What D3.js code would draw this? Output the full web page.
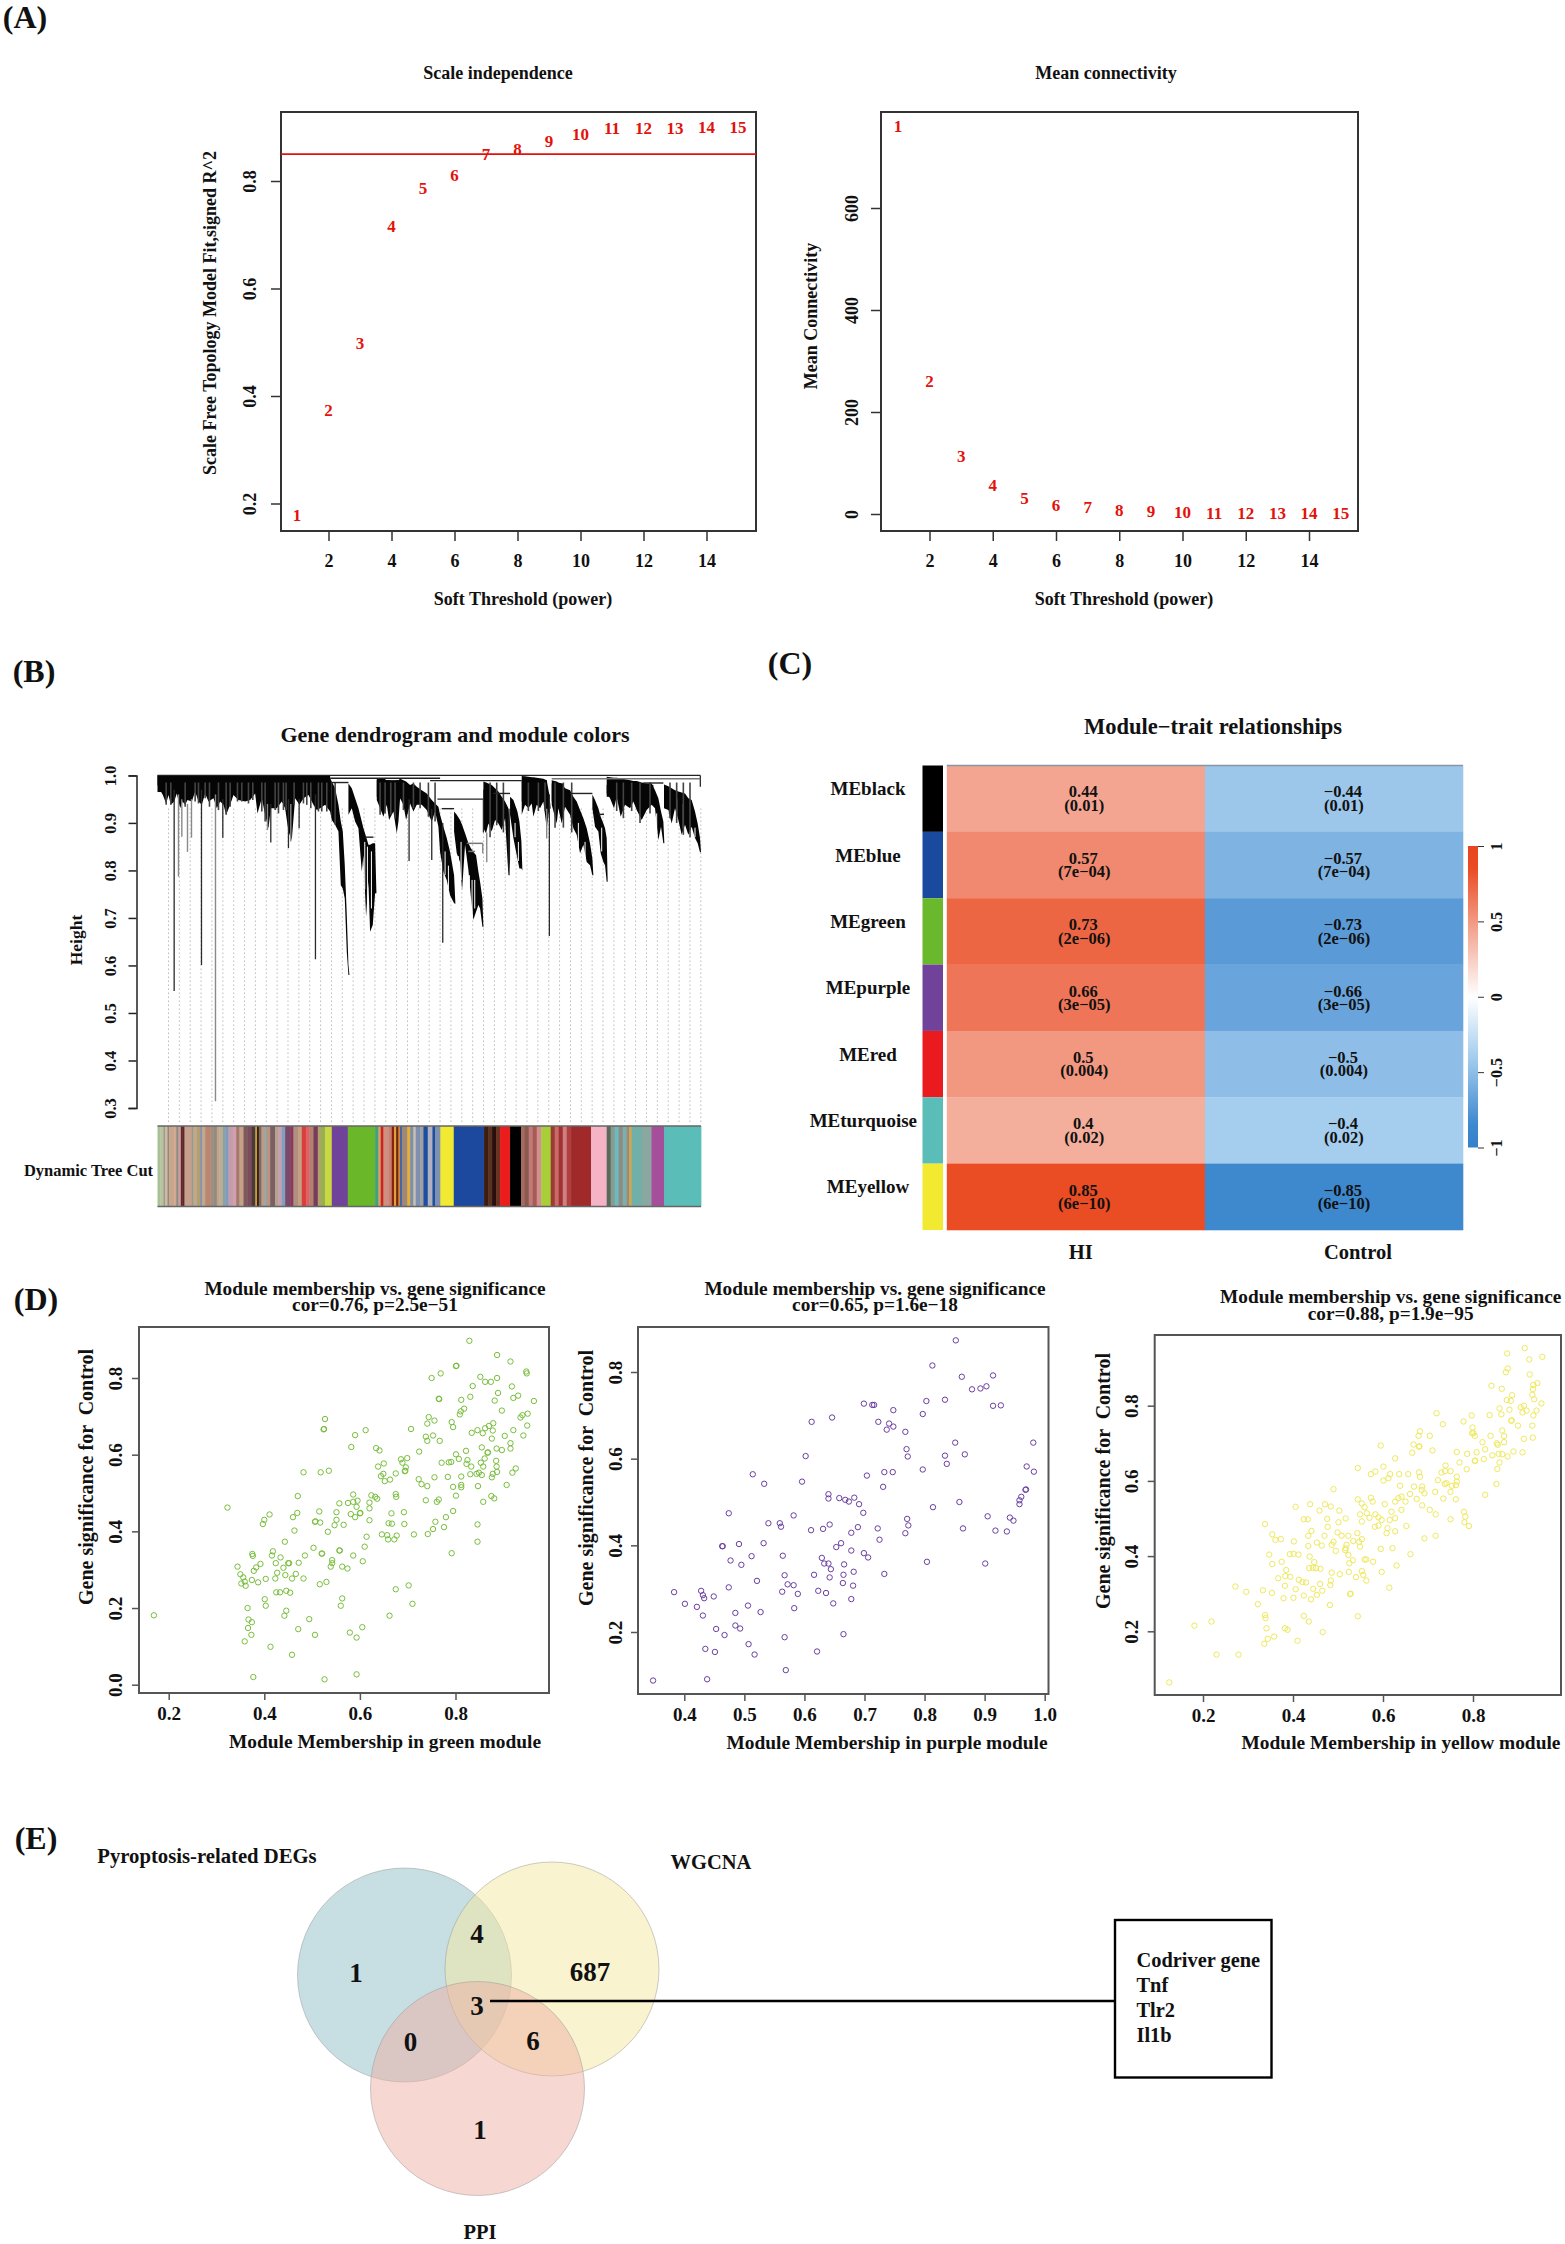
<!DOCTYPE html>
<html>
<head>
<meta charset="utf-8">
<title>WGCNA figure</title>
<script src="https://cdn.jsdelivr.net/npm/d3@7"></script>
<style>
  body { margin: 0; background: #fff; }
  text { font-family: "Liberation Serif", serif; font-weight: bold; fill: #111; white-space: pre; }
</style>
</head>
<body>
<div id="chart"></div>
<script>
// (A) soft threshold
var powers = [1,2,3,4,5,6,7,8,9,10,11,12,13,14,15];
var scaleFit = [.179,.374,.498,.716,.786,.811,.851,.860,.874,.888,.898,.898,.898,.901,.900];
var meanConn = [761,261,114,56,32,18,13,8,6,4,2.5,2,1.5,1,1];
var fitCutoff = 0.85;
var powerTicks = [2,4,6,8,10,12,14];
var fitTicks = [.2,.4,.6,.8];
var connTicks = [0,200,400,600];

// (B) dendrogram, leaf position then branch top and bottom height
var heightTicks = [.3,.4,.5,.6,.7,.8,.9,1];
var clades = [
  [[22,1,.98],[30,1,.969],[38,1,.959],[48,1,.941],[55,1,.959],[62,1,.938],[72,1,.945],[80,1,.962],[90,1,.931],[97,1,.945],[105,1,.938],[112,1,.948],[125,1,.945],[135,1,.966],[145,1,.945],[155,1,.938],[165,1,.962],[175,1,.945],[190,1,.952],[200,1,.931],[210,1,.945],[220,1,.938],[228,1,.917],[240,1,.938],[250,1,.959],[265,1,.948],[285,1,.945],[300,1,.948],[315,1,.962],[322,1,.92],[335,1,.952],[345,1,.917],[355,1,.889],[362,1,.931],[380,1,.931],[395,1,.945],[405,1,.931],[415,1,.882],[425,1,.864],[435,1,.952],[448,1,.938],[460,1,.952],[475,1,.959],[490,1,.938],[500,1,.927],[510,1,.931],[525,1,.938],[540,.994,.924],[545,.987,.906]],
  [[545,.987,.906],[555,.973,.896],[565,.938,.882],[572,.903,.769],[578,.882,.762],[584,.811,.741],[590,.706,.629],[595,.601,.58],[598,.58,.58]],
  [[595,.983,.917],[605,.973,.931],[615,.952,.903],[625,.931,.889],[635,.903,.797],[640,.889,.832],[648,.871,.703],[655,.854,.776],[660,.854,.671],[668,.857,.685],[675,.857,.752],[679,.752,.752]],
  [[680,.994,.948],[690,.994,.931],[700,.994,.913],[710,.99,.938],[717,.99,.906],[730,.987,.924],[740,.99,.878],[745,.99,.903],[750,.993,.952],[760,.99,.938],[768,.987,.906],[780,.98,.941],[790,.983,.924],[800,.976,.938],[815,.969,.938],[830,.962,.927],[845,.948,.903],[855,.941,.924],[865,.934,.892],[870,.917,.839],[880,.892,.797],[890,.868,.78],[900,.839,.748],[912,.79,.731],[916,.73,.73]],
  [[912,.924,.882],[920,.917,.836],[930,.906,.818],[936,.896,.759],[945,.878,.854],[955,.857,.801],[962,.847,.748],[970,.839,.696],[978,.832,.713],[985,.797,.727],[990,.776,.72],[997,.741,.682],[1000,.68,.68]],
  [[1000,.987,.889],[1008,.985,.878],[1015,.983,.899],[1025,.98,.882],[1035,.973,.906],[1045,.966,.899],[1055,.955,.885],[1065,.945,.91],[1075,.931,.79],[1080,.9,.82]],
  [[1080,.955,.917],[1090,.948,.868],[1102,.924,.825],[1108,.903,.804],[1114,.861,.804],[1117,.8,.8]],
  [[1115,.999,.917],[1125,.998,.938],[1135,.997,.931],[1145,.996,.941],[1150,.996,.913],[1160,.995,.938],[1170,.994,.931],[1180,.993,.945],[1190,.99,.889],[1198,.959,.931],[1202,.93,.93]],
  [[1205,.99,.938],[1220,.987,.899],[1225,.985,.931],[1235,.983,.899],[1245,.973,.934],[1260,.969,.917],[1270,.955,.889],[1280,.945,.875],[1290,.927,.836],[1300,.91,.854],[1310,.889,.818],[1320,.857,.811],[1327,.825,.79],[1330,.79,.79]],
  [[1327,.96,.931],[1335,.948,.892],[1345,.931,.882],[1352,.913,.836],[1360,.899,.818],[1365,.889,.811],[1370,.868,.776],[1373,.776,.776]],
  [[1370,.997,.962],[1380,.996,.952],[1392,.995,.931],[1400,.995,.955],[1412,.994,.913],[1425,.992,.938],[1440,.99,.931],[1450,.988,.945],[1460,.988,.927],[1475,.985,.906],[1490,.983,.927],[1505,.983,.938],[1515,.969,.931],[1525,.952,.864],[1533,.924,.892],[1540,.903,.857],[1543,.857,.857]],
  [[1542,.981,.931],[1555,.977,.927],[1565,.973,.899],[1575,.969,.931],[1585,.966,.906],[1595,.964,.875],[1605,.962,.896],[1615,.952,.875],[1625,.948,.892],[1635,.924,.868],[1643,.899,.857],[1650,.868,.838],[1653,.838,.838]]
];
// solid core of the clades: from, to, top, bottom
var cladeCores = [[22,540,1,.965],[680,745,.99,.955],[752,800,.975,.95],[1000,1040,.97,.93],[1115,1190,.99,.945],[1205,1240,.983,.945],[1370,1510,.98,.955],[1542,1590,.965,.94]];
var darkSpikes = [[72,.97,.546],[154,.97,.601],[218,.95,.869],[362,.94,.859],[415,.95,.847],[447,.95,.889],[496,.96,.613],[777,.95,.82],[845,.93,.822],[878,.9,.648],[1000,.95,.88],[1077,.93,.79],[1198,.96,.662],[1651,1,.976]];
var graySpikes = [[85,.96,.787],[95,.95,.871],[112,.94,.839],[124,.95,.869],[196,.96,.314],[352,.94,.885],[422,.94,.861],[998,.857,.836],[1010,.88,.817],[1190,.93,.867]];
// short leaves hanging out of the dense part of each clade
var streaks = [[48,.938],[62,.938],[105,.934],[135,.945],[145,.941],[165,.952],[178,.934],[205,.927],[228,.917],[240,.934],[262,.945],[275,.945],[295,.941],[308,.948],[335,.924],[345,.903],[375,.927],[385,.92],[400,.927],[408,.927],[432,.938],[460,.941],[470,.938],[482,.931],[505,.924],[515,.924],[530,.924],[555,.896],[690,.917],[705,.92],[722,.917],[735,.91],[760,.927],[790,.931],[810,.931],[835,.913],[855,.903],[1020,.87],[1040,.895],[1060,.88],[1135,.925],[1165,.925],[1185,.925],[1215,.89],[1240,.89],[1265,.88],[1400,.925],[1420,.91],[1445,.925],[1470,.9],[1500,.92],[1560,.91],[1580,.9],[1600,.875],[1620,.87]];
// white slits where a clade opens into separate leaves
var cladeGaps = [[644,.86,.76],[652,.85,.72],[664,.84,.72],[885,.84,.79],[895,.81,.76],[925,.83,.8],[933,.86,.78],[958,.79,.75],[966,.78,.7],[974,.78,.72],[1095,.9,.87],[1105,.86,.82],[1285,.9,.85],[1305,.86,.82],[1355,.89,.84],[1520,.92,.87],[1580,.95,.91],[1600,.94,.89],[1635,.89,.87]];
var merges = [[22,1651,1],[540,870,.994],[840,1115,.989],[545,595,.985],[645,670,.87],[862,1000,.95],[875,912,.93],[1030,1080,.962],[1260,1327,.962],[1345,1362,.918],[1480,1540,.984]];
var grayMerges = [[1205,1651,.993],[950,998,.857],[955,975,.84]];
var stripeEnds = [30,40,45,52,57,72,78,85,92,96,103,125,130,140,150,155,165,180,190,200,208,218,225,235,248,258,268,280,292,305,316,320,326,334,345,350,360,375,385,395,405,420,430,445,455,468,478,490,503,512,525,530,545,593,675,685,692,700,715,725,732,738,745,750,755,772,780,790,797,810,820,833,847,855,871,911,1002,1014,1026,1038,1050,1080,1113,1124,1136,1148,1160,1174,1202,1214,1226,1238,1250,1263,1323,1370,1382,1394,1406,1418,1430,1438,1445,1475,1504,1542,1653];
var stripeColors = ["#A9BF95","#B8C4A0","#9E9A8C","#D2B8A2","#8C8C7C","#C9A58C","#D0A890","#8F8F80","#D59AA0","#5A2A2A","#5A2A2A","#C5A08C","#9A9A8A","#C2A98C","#B49F6F","#7E8DB4","#C0A890","#B9876F","#A88A7A","#8E8E80","#C7A090","#B8B090","#8FA0A0","#7F9CBF","#C59CA8","#D0A0B0","#A5786E","#C8A088","#7A5A5A","#7B4B5B","#4A3A3A","#E8C040","#3A1A10","#7A6A60","#C09A88","#74B0B0","#C09080","#7A6060","#B8A090","#C4A0B0","#80A0C0","#7A4A6A","#8A3A5A","#B09080","#C8A080","#D84040","#E06060","#B08070","#7A3A5A","#B0A070","#98B050","#C8D840","#C8D840","#70429A","#6AB82C","#40A080","#D8A060","#CC2020","#D09080","#C88070","#8A2010","#E0A040","#6A2A10","#E08030","#2F5FA8","#A08878","#E8B030","#7F8FA8","#C8C0B0","#7F8FB0","#A0A0A0","#1C50A0","#B0B0C0","#1C50A0","#8090B0","#F2EA30","#1A4A9E","#3A1A10","#5A3020","#2A1008","#6A3020","#EA1B1F","#000000","#A56A60","#8A5A50","#C07A78","#AA5A55","#D09090","#A8CF38","#9A3A35","#C86A68","#A03030","#D08080","#AF4040","#A02A2A","#F4B4C6","#5A6A5A","#8A9A90","#6ABAC0","#908A80","#7AB0B0","#A08A70","#D0A850","#70B0A8","#88A8A0","#A54F9A","#5ABDB8"];

// (C) module-trait table
var moduleNames = ["MEblack","MEblue","MEgreen","MEpurple","MEred","MEturquoise","MEyellow"];
var moduleColors = ["#000000","#1A4A9E","#6AB82C","#70429A","#EA1B1F","#5ABDB8","#F2EA30"];
var traits = ["HI","Control"];
var hiCor = [.44,.57,.73,.66,.5,.4,.85];
var controlCor = [-.44,-.57,-.73,-.66,-.5,-.4,-.85];
var corP = ["(0.01)","(7e\u221204)","(2e\u221206)","(3e\u221205)","(0.004)","(0.02)","(6e\u221210)"];
var corTicks = [-1,-.5,0,.5,1];
var corStops = [-1,-.85,-.4,0,.4,.85,1];
var corStopColors = ["#3580C9","#3E88CE","#A5CDEE","#FFFFFF","#F4AE9C","#EA4C24","#E64520"];

// (D) module membership (x) and gene significance (y)
var greenPoints = [[.169,.181],[.323,.462],[.344,.308],[.35,.288],[.356,.28],[.352,.264],[.359,.269],[.361,.258],[.374,.273],[.376,.336],[.375,.341],[.378,.297],[.383,.306],[.392,.315],[.387,.267],[.403,.276],[.397,.419],[.4,.43],[.411,.444],[.418,.348],[.416,.337],[.424,.317],[.434,.332],[.427,.292],[.423,.277],[.425,.241],[.433,.241],[.446,.245],[.454,.24],[.44,.305],[.444,.286],[.45,.317],[.452,.317],[.443,.373],[.458,.277],[.466,.289],[.482,.277],[.472,.318],[.485,.337],[.503,.357],[.52,.342],[.521,.342],[.539,.308],[.542,.325],[.542,.317],[.557,.35],[.558,.35],[.563,.308],[.574,.303],[.586,.337],[.606,.322],[.61,.36],[.614,.386],[.516,.262],[.53,.268],[.563,.225],[.56,.206],[.401,.223],[.403,.206],[.365,.2],[.367,.17],[.374,.163],[.366,.148],[.373,.13],[.359,.113],[.446,.193],[.442,.18],[.413,.099],[.458,.078],[.471,.145],[.494,.171],[.506,.13],[.579,.136],[.593,.123],[.605,.15],[.377,.02],[.526,.014],[.593,.027],[.662,.18],[.675,.249],[.702,.259],[.71,.211],[.713,.392],[.533,.399],[.547,.416],[.551,.43],[.566,.417],[.463,.402],[.46,.437],[.469,.448],[.47,.492],[.482,.554],[.506,.425],[.507,.426],[.517,.423],[.515,.452],[.551,.45],[.557,.473],[.575,.474],[.581,.445],[.586,.496],[.586,.477],[.595,.48],[.593,.464],[.59,.437],[.6,.447],[.601,.448],[.62,.475],[.62,.46],[.62,.429],[.624,.494],[.632,.49],[.636,.485],[.646,.392],[.657,.39],[.659,.379],[.666,.447],[.66,.421],[.667,.42],[.677,.389],[.672,.379],[.675,.497],[.676,.49],[.692,.45],[.693,.419],[.518,.554],[.535,.558],[.524,.666],[.525,.667],[.527,.693],[.582,.62],[.59,.651],[.612,.664],[.634,.617],[.641,.611],[.638,.569],[.65,.577],[.644,.544],[.649,.55],[.652,.531],[.663,.535],[.675,.551],[.686,.588],[.689,.579],[.699,.591],[.694,.557],[.695,.558],[.696,.567],[.707,.667],[.724,.608],[.723,.536],[.729,.523],[.741,.518],[.738,.481],[.761,.477],[.765,.483],[.756,.541],[.784,.542],[.771,.579],[.786,.58],[.791,.581],[.738,.647],[.753,.65],[.741,.636],[.767,.636],[.741,.681],[.744,.698],[.756,.689],[.75,.8],[.769,.812],[.765,.746],[.766,.745],[.792,.685],[.795,.672],[.822,.61],[.801,.601],[.807,.589],[.825,.586],[.823,.576],[.833,.569],[.831,.549],[.812,.543],[.812,.521],[.812,.515],[.795,.516],[.801,.493],[.795,.453],[.78,.437],[.776,.411],[.758,.425],[.753,.406],[.742,.393],[.792,.343],[.846,.418],[.846,.373],[.847,.518],[.858,.477],[.875,.492],[.881,.486],[.844,.55],[.849,.553],[.853,.579],[.858,.569],[.861,.59],[.855,.547],[.867,.605],[.868,.606],[.876,.541],[.878,.55],[.885,.584],[.886,.569],[.887,.555],[.886,.616],[.897,.612],[.876,.642],[.878,.663],[.87,.675],[.879,.682],[.862,.669],[.857,.656],[.846,.664],[.834,.657],[.855,.619],[.903,.649],[.921,.664],[.915,.63],[.915,.616],[.919,.553],[.926,.564],[.907,.521],[.942,.65],[.95,.676],[.951,.707],[.94,.703],[.936,.697],[.897,.715],[.889,.761],[.882,.741],[.918,.778],[.921,.748],[.931,.754],[.964,.74],[.949,.812],[.948,.817],[.915,.843],[.887,.86],[.829,.897],[.801,.831],[.802,.832],[.887,.8],[.874,.79],[.862,.79],[.852,.803],[.836,.779],[.831,.751],[.812,.743],[.818,.72],[.811,.713],[.809,.705]];
var purplePoints = [[.348,.088],[.383,.292],[.401,.265],[.421,.258],[.428,.295],[.431,.285],[.433,.278],[.431,.238],[.449,.282],[.435,.161],[.451,.154],[.438,.091],[.453,.207],[.467,.193],[.474,.303],[.485,.244],[.485,.215],[.493,.208],[.506,.261],[.507,.172],[.517,.148],[.527,.246],[.521,.318],[.495,.355],[.477,.365],[.463,.398],[.464,.398],[.491,.403],[.512,.375],[.532,.405],[.474,.474],[.54,.451],[.559,.451],[.561,.443],[.514,.564],[.533,.542],[.596,.547],[.602,.606],[.582,.469],[.611,.435],[.631,.438],[.642,.448],[.564,.376],[.567,.331],[.572,.31],[.582,.308],[.563,.293],[.589,.288],[.583,.255],[.623,.295],[.636,.29],[.648,.266],[.678,.276],[.681,.307],[.664,.313],[.665,.332],[.642,.326],[.616,.332],[.644,.345],[.64,.358],[.633,.358],[.629,.371],[.666,.356],[.682,.339],[.678,.388],[.653,.396],[.661,.405],[.678,.429],[.689,.442],[.698,.475],[.691,.495],[.683,.51],[.674,.501],[.668,.505],[.658,.509],[.64,.518],[.64,.508],[.699,.382],[.706,.372],[.725,.413],[.722,.439],[.733,.334],[.768,.428],[.771,.461],[.773,.446],[.731,.535],[.704,.561],[.733,.569],[.747,.569],[.77,.622],[.772,.605],[.797,.575],[.768,.662],[.748,.674],[.741,.681],[.737,.667],[.723,.685],[.748,.712],[.716,.724],[.713,.724],[.699,.727],[.612,.685],[.646,.695],[.797,.703],[.803,.733],[.834,.736],[.813,.815],[.852,.873],[.862,.789],[.879,.76],[.893,.762],[.903,.767],[.914,.792],[.914,.722],[.927,.723],[.851,.637],[.834,.607],[.837,.588],[.867,.61],[.858,.5],[.814,.488],[.804,.362],[.864,.439],[.901,.358],[.905,.467],[.918,.434],[.937,.432],[.942,.464],[.948,.457],[.958,.495],[.958,.504],[.961,.512],[.968,.528],[.969,.529],[.981,.637],[.97,.582],[.982,.57],[.567,.188],[.569,.112],[.621,.155],[.665,.195]];
var yellowPoints = [[.125,.064],[.181,.215],[.219,.226],[.23,.138],[.279,.138],[.272,.319],[.296,.305],[.322,.272],[.333,.309],[.353,.302],[.338,.485],[.354,.458],[.361,.443],[.373,.445],[.347,.404],[.354,.379],[.375,.385],[.402,.439],[.393,.405],[.401,.406],[.412,.404],[.406,.531],[.385,.363],[.367,.341],[.383,.347],[.394,.345],[.382,.321],[.379,.288],[.401,.289],[.406,.312],[.413,.337],[.421,.331],[.429,.33],[.424,.295],[.338,.243],[.339,.235],[.341,.208],[.344,.18],[.336,.167],[.358,.186],[.382,.208],[.388,.204],[.41,.175],[.424,.241],[.435,.226],[.466,.198],[.44,.285],[.445,.313],[.453,.297],[.465,.308],[.46,.326],[.484,.335],[.483,.323],[.482,.27],[.486,.356],[.504,.352],[.524,.358],[.527,.299],[.528,.3],[.544,.24],[.54,.344],[.553,.36],[.556,.35],[.563,.335],[.597,.358],[.614,.316],[.63,.375],[.621,.421],[.595,.419],[.578,.385],[.559,.391],[.563,.391],[.533,.389],[.525,.381],[.523,.403],[.516,.416],[.519,.43],[.517,.421],[.495,.414],[.49,.438],[.486,.43],[.499,.463],[.508,.454],[.523,.454],[.534,.44],[.543,.461],[.547,.438],[.553,.445],[.549,.425],[.464,.428],[.47,.454],[.453,.436],[.434,.427],[.434,.454],[.441,.467],[.437,.399],[.447,.384],[.444,.369],[.436,.368],[.451,.368],[.461,.366],[.477,.478],[.476,.499],[.424,.498],[.433,.498],[.438,.538],[.459,.521],[.471,.538],[.484,.532],[.503,.521],[.49,.578],[.517,.5],[.501,.49],[.544,.551],[.544,.634],[.553,.54],[.559,.53],[.549,.511],[.553,.492],[.564,.514],[.573,.555],[.577,.545],[.57,.502],[.583,.511],[.59,.503],[.582,.478],[.59,.481],[.608,.461],[.61,.474],[.627,.466],[.652,.48],[.661,.405],[.692,.447],[.717,.454],[.615,.496],[.597,.496],[.604,.538],[.619,.518],[.627,.501],[.627,.545],[.634,.554],[.641,.558],[.641,.523],[.65,.545],[.66,.565],[.675,.552],[.687,.535],[.704,.523],[.717,.511],[.687,.585],[.686,.576],[.692,.567],[.716,.571],[.734,.553],[.762,.551],[.75,.571],[.75,.498],[.78,.518],[.783,.505],[.781,.49],[.791,.48],[.669,.585],[.638,.587],[.601,.601],[.612,.607],[.616,.618],[.636,.618],[.627,.66],[.656,.618],[.601,.638],[.583,.625],[.573,.618],[.595,.694],[.665,.675],[.668,.697],[.68,.691],[.681,.692],[.679,.72],[.682,.732],[.704,.72],[.71,.681],[.68,.623],[.682,.611],[.722,.602],[.73,.622],[.739,.641],[.738,.626],[.75,.626],[.737,.592],[.741,.594],[.764,.598],[.764,.611],[.753,.587],[.762,.589],[.77,.649],[.764,.677],[.786,.631],[.787,.672],[.804,.653],[.805,.654],[.808,.676],[.824,.658],[.827,.684],[.821,.703],[.827,.563],[.852,.592],[.854,.632],[.859,.649],[.843,.668],[.857,.672],[.865,.671],[.877,.665],[.89,.678],[.91,.676],[.853,.7],[.855,.696],[.869,.703],[.869,.719],[.839,.72],[.865,.734],[.798,.727],[.801,.727],[.804,.72],[.799,.742],[.779,.758],[.797,.774],[.733,.751],[.719,.78],[.837,.775],[.841,.853],[.864,.845],[.873,.889],[.877,.899],[.876,.939],[.859,.793],[.863,.777],[.881,.789],[.875,.815],[.884,.813],[.887,.828],[.885,.76],[.886,.761],[.9,.747],[.932,.747],[.933,.715],[.913,.712],[.906,.796],[.913,.8],[.91,.782],[.919,.787],[.934,.774],[.941,.787],[.952,.806],[.936,.817],[.932,.829],[.934,.855],[.933,.844],[.943,.86],[.926,.883],[.925,.923],[.915,.953],[.954,.93]];

// (E) venn
var vennNames = ["Pyroptosis-related DEGs","WGCNA","PPI"];
var vennColors = ["#8FBFC8","#F5E8A0","#EEAFA3"];
var vennCounts = [1,4,687,3,0,6,1];
var codrivers = ["Codriver gene","Tnf","Tlr2","Il1b"];

var svg = d3.select("#chart").append("svg")
  .attr("width", 1565)
  .attr("height", 2244)
  .style("display", "block");

function label(x, y, str, size, rotate) {
  var t = svg.append("text")
    .attr("text-anchor", "middle")
    .attr("dy", "0.35em")
    .style("font-size", size + "px")
    .text(str);
  if (rotate) t.attr("transform", "translate(" + x + "," + y + ") rotate(-90)");
  else t.attr("x", x).attr("y", y);
  return t;
}

// tightly stacked lines belong to one text element
function stacked(x, y, lines, size, step, xShift) {
  var t = svg.append("text")
    .attr("text-anchor", "middle")
    .style("font-size", size + "px");
  lines.forEach(function (s, i) {
    t.append("tspan")
      .attr("x", x + (i ? xShift || 0 : 0))
      .attr("y", y + i * step)
      .attr("dy", "0.35em")
      .text(s);
  });
  return t;
}

function rAxes(o) {
  var x = d3.scaleLinear().domain(o.xDomain).range(o.xRange);
  var y = d3.scaleLinear().domain(o.yDomain).range(o.yRange);
  svg.append("rect")
    .attr("x", o.left).attr("y", o.top)
    .attr("width", o.right - o.left).attr("height", o.bottom - o.top)
    .attr("fill", "none")
    .attr("stroke", o.boxColor)
    .attr("stroke-width", 2);

  var ax = svg.append("g")
    .attr("transform", "translate(0," + o.bottom + ")")
    .call(d3.axisBottom(x).tickValues(o.xTicks).tickSize(o.tickLen).tickFormat(d3.format(o.xFormat)));
  ax.select(".domain").remove();
  ax.selectAll("line").attr("stroke", o.boxColor).attr("stroke-width", 1.5);
  ax.selectAll("text")
    .attr("y", o.xTickY - o.bottom)
    .attr("dy", "0.35em")
    .style("font-size", o.tickFont + "px")
    .style("font-family", "Liberation Serif");

  var ay = svg.append("g")
    .attr("transform", "translate(" + o.left + ",0)")
    .call(d3.axisLeft(y).tickValues(o.yTicks).tickSize(o.tickLen).tickFormat(d3.format(o.yFormat)));
  ay.select(".domain").remove();
  ay.selectAll("line").attr("stroke", o.boxColor).attr("stroke-width", 1.5);
  ay.selectAll("text")
    .attr("x", 0)
    .attr("dy", "0.35em")
    .attr("text-anchor", "middle")
    .attr("transform", "translate(" + (o.yTickX - o.left) + ",0) rotate(-90)")
    .style("font-size", o.tickFont + "px")
    .style("font-family", "Liberation Serif");

  stacked(o.titleX, o.titleY, o.titles, o.titleFont, o.titleStep || 0);
  label(o.xLabelX, o.xLabelY, o.xLabel, o.labelFont);
  label(o.yLabelX, o.yLabelY, o.yLabel, o.yLabelFont || o.labelFont, true);
  return { x: x, y: y };
}

// panel letters
label(25, 17, "(A)", 32);
label(34, 671, "(B)", 32);
label(790, 663, "(C)", 32);
label(36, 1299, "(D)", 32);
label(36, 1838, "(E)", 32);

// (A)
function softPlot(o, values) {
  var p = rAxes(Object.assign({
    top: 112, bottom: 531, boxColor: "#333", tickLen: 10, tickFont: 18,
    xTickY: 561, xTicks: powerTicks, xFormat: "d", titleY: 73, titleFont: 18,
    xLabel: "Soft Threshold (power)", xLabelY: 599, labelFont: 18
  }, o));
  svg.append("g").selectAll("text").data(powers).enter().append("text")
    .attr("x", function (d) { return p.x(d); })
    .attr("y", function (d, i) { return p.y(values[i]); })
    .attr("dy", "0.35em")
    .attr("text-anchor", "middle")
    .style("font-size", "17px")
    .style("fill", "#E3120B")
    .text(function (d) { return d; });
  return p;
}

var fitPlot = softPlot({
  left: 281, right: 756,
  xDomain: [2, 14], xRange: [328.5, 706.5],
  yDomain: [.2, .8], yRange: [503.5, 181],
  yTicks: fitTicks, yFormat: ".1f", yTickX: 250,
  titles: ["Scale independence"], titleX: 498,
  xLabelX: 523, yLabel: "Scale Free Topology Model Fit,signed R^2", yLabelX: 210, yLabelY: 313
}, scaleFit);

svg.append("line")
  .attr("x1", 281).attr("x2", 756)
  .attr("y1", fitPlot.y(fitCutoff)).attr("y2", fitPlot.y(fitCutoff))
  .attr("stroke", "#E3120B")
  .attr("stroke-width", 1.8);

softPlot({
  left: 881, right: 1358,
  xDomain: [2, 14], xRange: [929.5, 1309],
  yDomain: [0, 600], yRange: [514, 208],
  yTicks: connTicks, yFormat: "d", yTickX: 852,
  titles: ["Mean connectivity"], titleX: 1106,
  xLabelX: 1124, yLabel: "Mean Connectivity", yLabelX: 811, yLabelY: 316
}, meanConn);

// (B)
var leafX = d3.scaleLinear().domain([22, 1653]).range([157.5, 701]);
var treeY = d3.scaleLinear().domain([.3, 1]).range([1108, 775.4]);

label(455, 734, "Gene dendrogram and module colors", 22);
label(76, 940, "Height", 17.5, true);

var treeAxis = svg.append("g")
  .attr("transform", "translate(136.5,0)")
  .call(d3.axisLeft(treeY).tickValues(heightTicks).tickSize(8).tickFormat(d3.format(".1f")));
treeAxis.select(".domain").attr("stroke", "#222").attr("stroke-width", 1.5);
treeAxis.selectAll("line").attr("stroke", "#222").attr("stroke-width", 1.5);
treeAxis.selectAll("text")
  .attr("x", 0)
  .attr("dy", "0.35em")
  .attr("text-anchor", "middle")
  .attr("transform", "translate(-26,0) rotate(-90)")
  .style("font-size", "16.5px")
  .style("font-family", "Liberation Serif");

// guide dots under the tree
svg.append("g").selectAll("line").data(d3.range(55, 1653, 32.6)).enter().append("line")
  .attr("x1", function (d) { return leafX(d); })
  .attr("x2", function (d) { return leafX(d); })
  .attr("y1", treeY(.93))
  .attr("y2", 1123)
  .attr("stroke", "#999")
  .attr("stroke-width", 1)
  .attr("stroke-dasharray", "1,3");

var cladeArea = d3.area()
  .x(function (d) { return leafX(d[0]); })
  .y0(function (d) { return treeY(d[2]); })
  .y1(function (d) { return treeY(d[1]); });

svg.append("g").selectAll("path").data(clades).enter().append("path")
  .attr("d", cladeArea)
  .attr("fill", "#050505");

svg.append("g").selectAll("rect").data(cladeCores).enter().append("rect")
  .attr("x", function (d) { return leafX(d[0]); })
  .attr("y", function (d) { return treeY(d[2]); })
  .attr("width", function (d) { return leafX(d[1]) - leafX(d[0]); })
  .attr("height", function (d) { return treeY(d[3]) - treeY(d[2]); })
  .attr("fill", "#050505");

function branchV(list, color, w) {
  svg.append("g").selectAll("line").data(list).enter().append("line")
    .attr("x1", function (d) { return leafX(d[0]); })
    .attr("x2", function (d) { return leafX(d[0]); })
    .attr("y1", function (d) { return treeY(d[1]); })
    .attr("y2", function (d) { return treeY(d[2]); })
    .attr("stroke", color)
    .attr("stroke-width", w);
}
function branchH(list, color, w) {
  svg.append("g").selectAll("line").data(list).enter().append("line")
    .attr("x1", function (d) { return leafX(d[0]); })
    .attr("x2", function (d) { return leafX(d[1]); })
    .attr("y1", function (d) { return treeY(d[2]); })
    .attr("y2", function (d) { return treeY(d[2]); })
    .attr("stroke", color)
    .attr("stroke-width", w);
}
branchV(cladeGaps, "#fff", 1);
branchV(streaks.map(function (d) { return [d[0], .985, d[1]]; }), "#444", 1.6);
branchV(graySpikes, "#8a8a8a", 1.4);
branchV(darkSpikes, "#2a2a2a", 1.3);
branchH(grayMerges, "#777", 1.5);
branchH(merges, "#222", 1.4);

var blur = svg.append("defs").append("filter").attr("id", "soft");
blur.append("feGaussianBlur").attr("stdDeviation", .6);

svg.append("g").attr("filter", "url(#soft)")
  .selectAll("rect").data(stripeEnds).enter().append("rect")
  .attr("x", function (d, i) { return leafX(i ? stripeEnds[i - 1] : 22); })
  .attr("y", 1126)
  .attr("width", function (d, i) { return leafX(d) - leafX(i ? stripeEnds[i - 1] : 22) + .4; })
  .attr("height", 80.5)
  .attr("fill", function (d, i) { return stripeColors[i]; });

svg.append("g").selectAll("line").data([1126, 1206.5]).enter().append("line")
  .attr("x1", leafX(22)).attr("x2", leafX(1653))
  .attr("y1", function (d) { return d; }).attr("y2", function (d) { return d; })
  .attr("stroke", "#666")
  .attr("stroke-width", 1.5);

label(88.5, 1170, "Dynamic Tree Cut", 16.5);

// (C)
var corColor = d3.scaleLinear().domain(corStops).range(corStopColors);
var rowY = d3.scaleBand().domain(moduleNames).range([765.5, 1230]);
var colX = d3.scaleBand().domain(traits).range([946.8, 1463]);

label(1213, 726, "Module\u2212trait relationships", 22.5);

svg.append("g").selectAll("rect").data(moduleNames).enter().append("rect")
  .attr("x", 922.5)
  .attr("y", function (d) { return rowY(d); })
  .attr("width", 20.5)
  .attr("height", rowY.bandwidth())
  .attr("fill", function (d, i) { return moduleColors[i]; });

moduleNames.forEach(function (m, i) {
  var name = label(868, rowY(m) + rowY.bandwidth() / 2 - 10, m, 19);
  // the long name sits against the colour strip rather than centred
  var w = name.node().getComputedTextLength();
  if (868 + w / 2 > 917) name.attr("x", 917 - w / 2);
  [hiCor[i], controlCor[i]].forEach(function (v, j) {
    var t = traits[j];
    svg.append("rect")
      .attr("x", colX(t)).attr("y", rowY(m))
      .attr("width", colX.bandwidth() + .3).attr("height", rowY.bandwidth() + .3)
      .attr("fill", corColor(v));
    var cx = colX(t) + (j ? 138 : 136.5);
    var cy = rowY(m) + rowY.bandwidth() / 2;
    stacked(cx, cy - 7, [String(v).replace("-", "\u2212"), corP[i]], 16.5, 13.5, 1);
  });
});

svg.append("line")
  .attr("x1", 946.8).attr("x2", 1463).attr("y1", 765.5).attr("y2", 765.5)
  .attr("stroke", "#8896a4").attr("stroke-width", 1.5);

traits.forEach(function (t, j) {
  label(colX(t) + (j ? 153 : 134), 1252, t, 20.5);
});

var barY = d3.scaleLinear().domain([-1, 1]).range([1147.5, 846]);
var grad = svg.append("defs").append("linearGradient")
  .attr("id", "corGrad")
  .attr("x1", 0).attr("x2", 0).attr("y1", 1).attr("y2", 0);
grad.selectAll("stop").data(corStops).enter().append("stop")
  .attr("offset", function (d) { return (d + 1) / 2; })
  .attr("stop-color", function (d) { return corColor(d); });
svg.append("rect")
  .attr("x", 1468).attr("y", barY(1))
  .attr("width", 10).attr("height", barY(-1) - barY(1))
  .attr("fill", "url(#corGrad)");
var barAxis = svg.append("g")
  .attr("transform", "translate(1478,0)")
  .call(d3.axisRight(barY).tickValues(corTicks).tickSize(6)
    .tickFormat(function (d) { return String(d).replace("-", "\u2212"); }));
barAxis.select(".domain").remove();
barAxis.selectAll("line").attr("stroke", "#333");
barAxis.selectAll("text")
  .attr("x", 0)
  .attr("dy", "0.35em")
  .attr("text-anchor", "middle")
  .attr("transform", "translate(18,0) rotate(-90)")
  .style("font-size", "16px")
  .style("font-family", "Liberation Serif");

// (D)
function scatter(o, pts, color) {
  var p = rAxes(Object.assign({
    boxColor: "#555", tickLen: 7, tickFont: 19, xFormat: ".1f", yFormat: ".1f",
    titleFont: 19.3, labelFont: 19.4, yLabelFont: 20, yTicks: [.2, .4, .6, .8], titleStep: 16.5
  }, o));
  svg.append("g").selectAll("circle").data(pts).enter().append("circle")
    .attr("cx", function (d) { return p.x(d[0]); })
    .attr("cy", function (d) { return p.y(d[1]); })
    .attr("r", 2.7)
    .attr("fill", "none")
    .attr("stroke", color)
    .attr("stroke-width", 1);
}

scatter({
  left: 139, right: 549, top: 1327, bottom: 1693,
  xDomain: [.2, .8], xRange: [168.7, 455.5], yDomain: [0, .8], yRange: [1684.7, 1378],
  xTicks: [.2, .4, .6, .8], yTicks: [0, .2, .4, .6, .8], xTickY: 1713, yTickX: 115.5,
  titles: ["Module membership vs. gene significance", "cor=0.76, p=2.5e\u221251"], titleX: 375, titleY: 1288,
  xLabel: "Module Membership in green module", xLabelX: 385, xLabelY: 1741,
  yLabel: "Gene significance for  Control", yLabelX: 86, yLabelY: 1477
}, greenPoints, "#78BE3C");

scatter({
  left: 638, right: 1048.5, top: 1327, bottom: 1694,
  xDomain: [.4, 1], xRange: [684.3, 1044.7], yDomain: [.2, .8], yRange: [1632, 1372],
  xTicks: [.4, .5, .6, .7, .8, .9, 1], xTickY: 1714, yTickX: 615,
  titles: ["Module membership vs. gene significance", "cor=0.65, p=1.6e\u221218"], titleX: 875, titleY: 1288,
  xLabel: "Module Membership in purple module", xLabelX: 887, xLabelY: 1742,
  yLabel: "Gene significance for  Control", yLabelX: 586, yLabelY: 1478
}, purplePoints, "#6B3FA0");

scatter({
  left: 1154.7, right: 1561, top: 1335, bottom: 1695,
  xDomain: [.2, .8], xRange: [1203, 1473], yDomain: [.2, .8], yRange: [1631.3, 1405.7],
  xTicks: [.2, .4, .6, .8], xTickY: 1715, yTickX: 1131.7,
  titles: ["Module membership vs. gene significance", "cor=0.88, p=1.9e\u221295"], titleX: 1390.7, titleY: 1296.5,
  xLabel: "Module Membership in yellow module", xLabelX: 1401, xLabelY: 1742,
  yLabel: "Gene significance for  Control", yLabelX: 1103, yLabelY: 1481
}, yellowPoints, "#EFE95C");

// (E)
var vennCircles = [[404.5, 1975], [552, 1969], [477.5, 2088.5]];
var vennSpots = [[356, 1973], [477, 1934], [590, 1972], [477, 2006], [410.5, 2042], [533, 2041], [480, 2130]];

svg.append("g").selectAll("circle").data(vennCircles).enter().append("circle")
  .attr("cx", function (d) { return d[0]; })
  .attr("cy", function (d) { return d[1]; })
  .attr("r", 107)
  .attr("fill", function (d, i) { return vennColors[i]; })
  .attr("fill-opacity", .5)
  .attr("stroke", "#999")
  .attr("stroke-opacity", .5);

vennCounts.forEach(function (c, i) {
  label(vennSpots[i][0], vennSpots[i][1], c, 27);
});
label(207, 1856, vennNames[0], 20.7);
label(711, 1862, vennNames[1], 20.5);
label(480, 2232, vennNames[2], 20.5);

svg.append("line")
  .attr("x1", 490).attr("x2", 1115).attr("y1", 2001).attr("y2", 2001)
  .attr("stroke", "#000").attr("stroke-width", 2.6);
svg.append("rect")
  .attr("x", 1115).attr("y", 1920).attr("width", 156.5).attr("height", 157.5)
  .attr("fill", "none").attr("stroke", "#000").attr("stroke-width", 2.4);
codrivers.forEach(function (c, i) {
  label(1136.5, 1960 + i * 25, c, 20.4).attr("text-anchor", "start");
});
</script>
</body>
</html>
